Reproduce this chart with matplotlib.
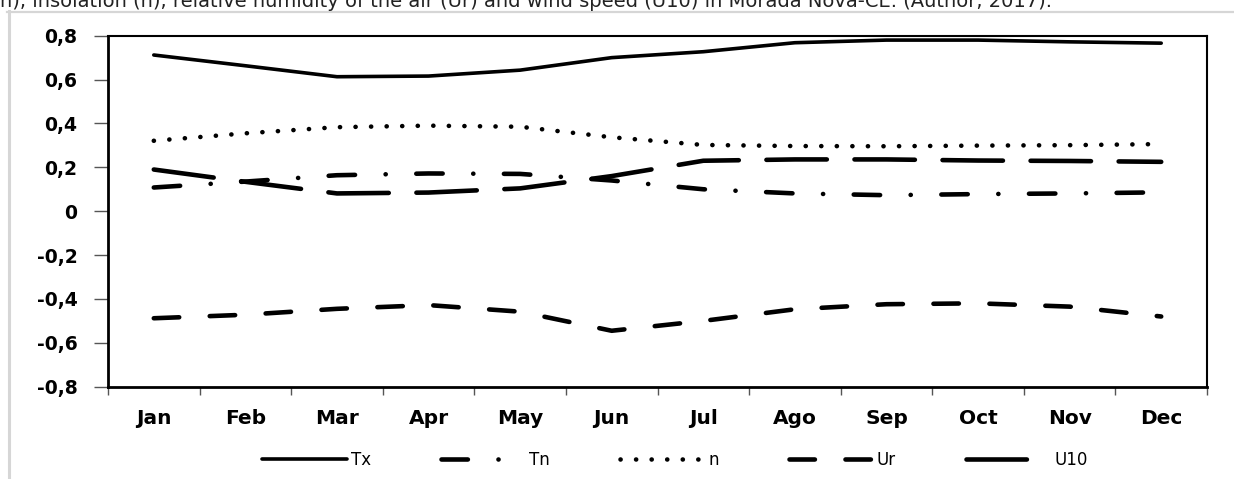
import numpy as np
import matplotlib
matplotlib.use("Agg")
import matplotlib.pyplot as plt
from matplotlib.lines import Line2D

plt.rcParams['lines.scale_dashes'] = False
plt.rcParams['font.family'] = ['DejaVu Sans']

months = ["Jan", "Feb", "Mar", "Apr", "May", "Jun",
          "Jul", "Ago", "Sep", "Oct", "Nov", "Dec"]

tx = [0.712, 0.663, 0.613, 0.616, 0.643, 0.700, 0.727, 0.768, 0.780, 0.780, 0.772, 0.766]
tn = [0.108, 0.135, 0.164, 0.172, 0.170, 0.140, 0.100, 0.081, 0.073, 0.078, 0.081, 0.086]
n = [0.321, 0.355, 0.383, 0.390, 0.385, 0.337, 0.302, 0.297, 0.296, 0.299, 0.301, 0.306]
ur = [-0.488, -0.472, -0.445, -0.428, -0.458, -0.545, -0.500, -0.447, -0.424, -0.420, -0.435, -0.480]
u10 = [0.190, 0.134, 0.081, 0.085, 0.104, 0.160, 0.230, 0.236, 0.236, 0.231, 0.229, 0.225]

yticks = [0.8, 0.6, 0.4, 0.2, 0.0, -0.2, -0.4, -0.6, -0.8]
ytick_labels = ["0,8", "0,6", "0,4", "0,2", "0", "-0,2", "-0,4", "-0,6", "-0,8"]

caption = ("n), insolation (n), relative humidity of the air (Ur) and wind speed (U10) "
           "in Morada Nova-CE. (Author, 2017).")

fig = plt.figure(figsize=(12.34, 4.79), dpi=100)

# frame lines of the surrounding table
fig.add_artist(Line2D([0.006, 1.0], [1 - 11.5 / 479, 1 - 11.5 / 479],
                      transform=fig.transFigure, color="#d6d6d6", lw=1.6))
fig.add_artist(Line2D([8.5 / 1234, 8.5 / 1234], [0, 1 - 11 / 479],
                      transform=fig.transFigure, color="#d6d6d6", lw=2.2))
fig.text(0.0, 1 - 7 / 479, caption, fontsize=14, va="baseline", ha="left",
         color="#222222")

ax = fig.add_axes([108 / 1234, 1 - 386.7 / 479, (1207 - 108) / 1234, 351 / 479])

x = np.arange(len(months))
lw = 3.3
ax.plot(x, tx, color="black", lw=2.6, label="Tx", solid_capstyle="round")
ax.plot(x, tn, color="black", lw=lw, label="Tn", dashes=(19, 22, 0.1, 22),
        dash_capstyle="round")
ax.plot(x, n, color="black", lw=lw, label="n", dashes=(0.1, 11.1),
        dash_capstyle="round")
ax.plot(x, ur, color="black", lw=lw, label="Ur", dashes=(18.3, 22),
        dash_capstyle="round")
ax.plot(x, u10, color="black", lw=lw, label="U10", dashes=(43.5, 19.9),
        dash_capstyle="round")

ax.set_xlim(-0.5, len(months) - 0.5)
ax.set_ylim(-0.8, 0.8)

ax.set_yticks(yticks)
ax.set_yticklabels(ytick_labels, fontsize=13.5, fontweight="bold")
ax.tick_params(axis="y", direction="out", length=10, width=1, color="#555555", pad=12)

ax.set_xticks(np.arange(-0.5, len(months), 1))
ax.set_xticklabels([])
ax.set_xticks(x, minor=True)
ax.set_xticklabels(months, minor=True, fontsize=14.5, fontweight="bold")
ax.tick_params(axis="x", which="major", direction="out", length=6, width=1, color="#555555")
ax.tick_params(axis="x", which="minor", length=0, pad=16)

for side in ["left", "bottom"]:
    ax.spines[side].set_linewidth(2.0)
for side in ["top", "right"]:
    ax.spines[side].set_linewidth(1.5)

fig.legend(loc="center", bbox_to_anchor=(675 / 1234, 1 - 460 / 479), ncol=5,
           frameon=False, fontsize=12, handlelength=5.1, handletextpad=0.2,
           columnspacing=4.2)

fig.savefig("out.png", dpi=100)
